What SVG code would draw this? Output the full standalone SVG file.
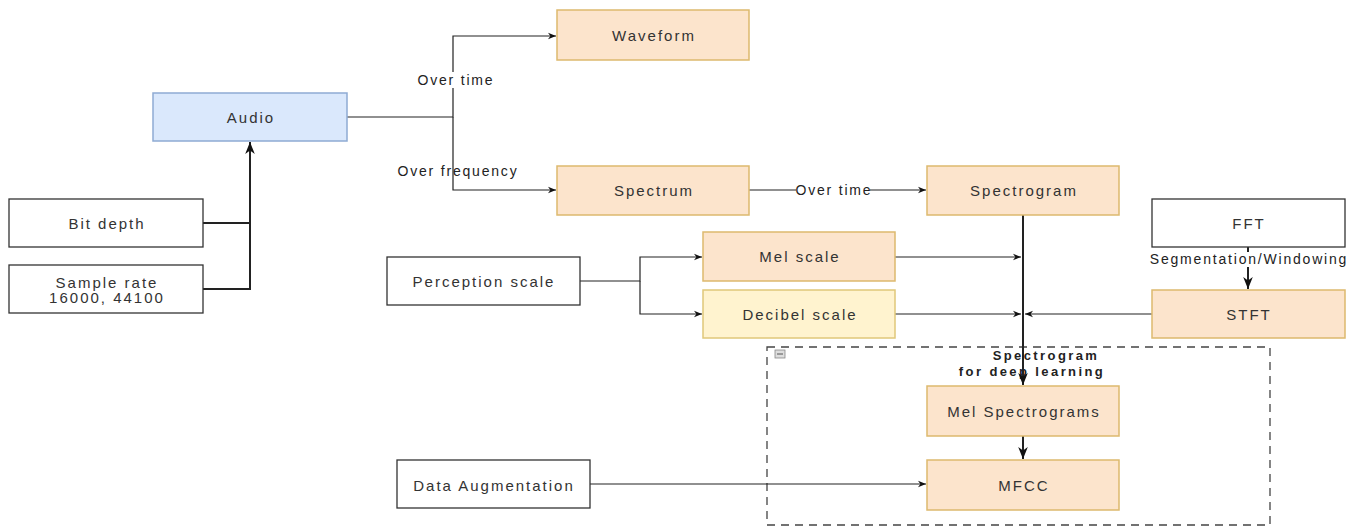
<svg xmlns="http://www.w3.org/2000/svg" width="1357" height="527" viewBox="0 0 1357 527">
<defs>
<marker id="arr" viewBox="0 0 10 10" refX="10" refY="5" markerWidth="8" markerHeight="8" markerUnits="userSpaceOnUse" orient="auto">
<path d="M0,1 L10,5 L0,9 L3,5 Z" fill="#111"/>
</marker>
<marker id="arrB" viewBox="0 0 10 10" refX="10" refY="5" markerWidth="12" markerHeight="12" markerUnits="userSpaceOnUse" orient="auto">
<path d="M0,1 L10,5 L0,9 L3,5 Z" fill="#111"/>
</marker>
<style>
text{font-family:"Liberation Sans",Arial,sans-serif;font-size:15px;letter-spacing:2px;fill:#333;text-anchor:middle;dominant-baseline:central}
.w rect{fill:#fff;stroke:#333;stroke-width:1.3}
.o rect{fill:#fce4cc;stroke:#ddb96e;stroke-width:1.5}
.y rect{fill:#fff3cf;stroke:#e0c77a;stroke-width:1.5}
.b rect{fill:#dae8fc;stroke:#8eabd3;stroke-width:1.5}
.c path{fill:none;stroke:#222;stroke-width:1.2}
.c path.t{stroke-width:2}
.lbl{font-size:14px;letter-spacing:1.8px;fill:#222}
.bold{font-weight:bold;font-size:13px;letter-spacing:2.4px;fill:#222}
</style>
</defs>
<rect width="1357" height="527" fill="#fff"/>
<g id="container">
<rect x="767" y="347" width="503" height="178" fill="none" stroke="#444" stroke-width="1.3" stroke-dasharray="8,6"/>
<rect x="775" y="350" width="10" height="8" fill="#ddd" stroke="#888" stroke-width="0.8"/>
<line x1="777" y1="354" x2="783" y2="354" stroke="#555" stroke-width="1"/>
<text class="bold" x="1046" y="355">Spectrogram</text>
<text class="bold" x="1032" y="371">for deep learning</text>
</g>
<g class="c" id="connectors">
<path d="M347,117 H453 V36 H556" marker-end="url(#arr)"/>
<path d="M453,117 V190 H556" marker-end="url(#arr)"/>
<path class="t" d="M203,223 H250"/>
<path class="t" d="M203,289 H250 V142" marker-end="url(#arrB)"/>
<path d="M749,190 H926" marker-end="url(#arr)"/>
<path class="t" d="M1023,215 V385" marker-end="url(#arrB)"/>
<path d="M895,257 H1021" marker-end="url(#arr)"/>
<path d="M895,314 H1021" marker-end="url(#arr)"/>
<path d="M1152,314 H1025" marker-end="url(#arr)"/>
<path class="t" d="M1248,247 V289" marker-end="url(#arrB)"/>
<path d="M580,281 H640 V257 H702" marker-end="url(#arr)"/>
<path d="M640,281 V314 H702" marker-end="url(#arr)"/>
<path class="t" d="M1023,436 V459" marker-end="url(#arrB)"/>
<path d="M590,484 H926" marker-end="url(#arr)"/>
</g>
<g id="edge-labels">
<rect x="416" y="72" width="78" height="16" fill="#fff"/>
<text class="lbl" x="456" y="80">Over time</text>
<text class="lbl" x="458" y="171">Over frequency</text>
<rect x="796" y="182" width="74" height="16" fill="#fff"/>
<text class="lbl" x="834" y="190">Over time</text>
<rect x="1150" y="252" width="197" height="15" fill="#fff"/>
<text class="lbl" x="1249" y="259">Segmentation/Windowing</text>
</g>
<g id="n-waveform" class="o"><rect x="557" y="10" width="192" height="50"/><text x="654" y="35">Waveform</text></g>
<g id="n-audio" class="b"><rect x="153" y="93" width="194" height="48"/><text x="251" y="117">Audio</text></g>
<g id="n-bitdepth" class="w"><rect x="9" y="199" width="194" height="48"/><text x="107" y="223">Bit depth</text></g>
<g id="n-samplerate" class="w"><rect x="9" y="265" width="194" height="48"/><text x="107" y="282">Sample rate</text><text x="107" y="297">16000, 44100</text></g>
<g id="n-spectrum" class="o"><rect x="557" y="166" width="192" height="49"/><text x="654" y="190">Spectrum</text></g>
<g id="n-spectrogram" class="o"><rect x="927" y="166" width="192" height="49"/><text x="1024" y="190">Spectrogram</text></g>
<g id="n-fft" class="w"><rect x="1152" y="199" width="193" height="48"/><text x="1249" y="223">FFT</text></g>
<g id="n-stft" class="o"><rect x="1152" y="290" width="193" height="48"/><text x="1249" y="314">STFT</text></g>
<g id="n-mel" class="o"><rect x="703" y="232" width="192" height="49"/><text x="800" y="256">Mel scale</text></g>
<g id="n-decibel" class="y"><rect x="703" y="290" width="192" height="48"/><text x="800" y="314">Decibel scale</text></g>
<g id="n-perception" class="w"><rect x="387" y="257" width="193" height="48"/><text x="484" y="281">Perception scale</text></g>
<g id="n-melspec" class="o"><rect x="927" y="386" width="192" height="50"/><text x="1024" y="411">Mel Spectrograms</text></g>
<g id="n-mfcc" class="o"><rect x="927" y="460" width="192" height="50"/><text x="1024" y="485">MFCC</text></g>
<g id="n-dataaug" class="w"><rect x="397" y="460" width="193" height="48"/><text x="494" y="485">Data Augmentation</text></g>
</svg>
